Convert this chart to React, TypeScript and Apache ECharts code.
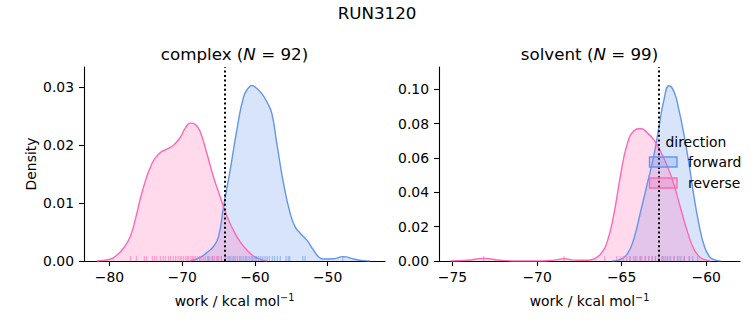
import React, { useEffect, useRef } from 'react';
import * as echarts from 'echarts';

// ---------- data ----------
const complexForward: [number, number][] = [
  [-68.9, 0], [-67.52, 0.00063], [-66.61, 0.00144], [-65.69, 0.0025], [-65.0, 0.0042],
  [-64.31, 0.0094], [-63.4, 0.0157], [-62.48, 0.0226], [-61.56, 0.0283], [-60.88, 0.0299],
  [-60.42, 0.0303], [-59.73, 0.0298], [-59.04, 0.0289], [-58.35, 0.0275], [-57.67, 0.0255],
  [-56.98, 0.0203], [-56.06, 0.0134], [-55.14, 0.0082], [-54.46, 0.0059], [-53.77, 0.0048],
  [-52.85, 0.0036], [-51.94, 0.0019], [-51.25, 0.00075], [-50.56, 0.00034], [-49.18, 0.0004],
  [-47.81, 0.00075], [-46.43, 0.00034], [-45.06, 0.00006], [-44.14, 0],
];
const complexReverse: [number, number][] = [
  [-81.74, 0], [-79.9, 0.0003], [-78.99, 0.001], [-78.07, 0.0022], [-77.15, 0.0042],
  [-76.46, 0.0071], [-75.55, 0.0117], [-74.17, 0.0168], [-73.03, 0.0187], [-72.11, 0.0193],
  [-71.19, 0.02], [-70.28, 0.0213], [-69.59, 0.0229], [-68.9, 0.0238], [-68.21, 0.0236],
  [-67.52, 0.0223], [-66.61, 0.0186], [-65.69, 0.0145], [-64.77, 0.0111], [-63.86, 0.0078],
  [-62.94, 0.0053], [-62.02, 0.0033], [-61.1, 0.0019], [-60.19, 0.00086], [-59.04, 0.0002],
  [-58.35, 0],
];
const solventForward: [number, number][] = [
  [-65.55, 0], [-65.06, 0.00097], [-64.66, 0.0041], [-64.27, 0.0132], [-63.88, 0.0287],
  [-63.48, 0.0452], [-63.09, 0.0617], [-62.79, 0.0782], [-62.5, 0.0937], [-62.2, 0.1021],
  [-61.9, 0.0986], [-61.61, 0.0879], [-61.31, 0.0734], [-61.02, 0.0569], [-60.72, 0.0375],
  [-60.42, 0.021], [-60.13, 0.0093], [-59.83, 0.0029], [-59.54, 0.00078], [-59.14, 0],
];
const solventReverse: [number, number][] = [
  [-75.12, 0], [-74.13, 0.0004], [-73.15, 0.00155], [-72.16, 0.0004], [-71.17, 0],
  [-69.79, 0], [-69.0, 0.0005], [-68.41, 0.00136], [-67.82, 0.0005], [-67.03, 0.0004],
  [-66.64, 0.00116], [-66.24, 0.0041], [-65.85, 0.0113], [-65.45, 0.0278], [-65.06, 0.0501],
  [-64.66, 0.0685], [-64.27, 0.0759], [-63.88, 0.0772], [-63.48, 0.0747], [-63.09, 0.0705],
  [-62.69, 0.0637], [-62.3, 0.0553], [-61.9, 0.0443], [-61.51, 0.0307], [-61.11, 0.0171],
  [-60.72, 0.0068], [-60.33, 0.0019], [-59.93, 0.0004], [-59.73, 0],
];

const complexForwardRug = [
  -66.4, -65.8, -65.1, -64.6, -64.0, -63.7, -63.3, -63.0, -62.7, -62.4, -62.1, -61.9,
  -61.6, -61.3, -61.1, -60.8, -60.5, -60.3, -60.0, -59.8, -59.5, -59.2, -58.9, -58.6,
  -58.3, -58.0, -57.6, -57.3, -56.9, -56.5, -55.7, -55.4, -55.2, -53.4, -53.1, -47.9,
];
const complexReverseRug = [
  -77.1, -76.3, -75.2, -74.9, -74.1, -73.8, -73.5, -73.0, -72.6, -72.3, -71.9, -71.6,
  -71.2, -70.9, -70.6, -70.3, -70.1, -69.8, -69.5, -69.3, -69.1, -68.8, -68.6, -68.4,
  -68.2, -67.9, -67.6, -67.4, -67.1, -66.8, -66.5, -66.2, -65.9, -65.6, -65.3, -65.0,
  -64.6, -64.1, -63.5, -62.9,
];
const solventForwardRug = [
  -64.5, -64.2, -63.9, -63.6, -63.4, -63.2, -63.0, -62.8, -62.6, -62.5, -62.3, -62.1,
  -61.9, -61.7, -61.5, -61.3, -61.0, -60.8, -60.5,
];
const solventReverseRug = [
  -73.15, -68.4, -66.0, -65.3, -65.1, -64.9, -64.7, -64.5, -64.3, -64.1, -63.9, -63.8,
  -63.6, -63.4, -63.2, -63.0, -62.8, -62.6, -62.4, -62.2, -61.9, -61.6, -61.3, -61.0,
];

const complexXTicks = [-80, -70, -60, -50];
const complexYTicks = [0, 0.01, 0.02, 0.03];
const solventXTicks = [-75, -70, -65, -60];
const solventYTicks = [0, 0.02, 0.04, 0.06, 0.08, 0.1];
const complexMean = -64.2;
const solventMean = -62.83;
const complexN = 92;
const solventN = 99;
const directions = ['forward', 'reverse'];

// ---------- styles ----------
const BLUE = '#6495ED';
const PINK = '#FF69B4';
const FONT = 'DejaVu Sans';
const TICK_FS = 13.9;
const TITLE_FS = 16.7;

const minus = (s: string) => s.replace('-', '\u2212');

function xAxis(gridIndex: number, min: number, max: number, ticks: number[]) {
  return {
    type: 'value', gridIndex, min, max,
    axisLine: { show: true, onZero: false, lineStyle: { color: '#000', width: 1.1 } },
    axisTick: { show: true, customValues: ticks, length: 5, lineStyle: { color: '#000', width: 1.1 } },
    axisLabel: {
      customValues: ticks, margin: 9, color: '#000', fontSize: TICK_FS, fontFamily: FONT,
      formatter: (v: number) => minus(String(v)),
    },
    splitLine: { show: false },
  };
}
function yAxis(gridIndex: number, max: number, ticks: number[]) {
  return {
    type: 'value', gridIndex, min: 0, max,
    axisLine: { show: true, onZero: false, lineStyle: { color: '#000', width: 1.1 } },
    axisTick: { show: true, customValues: ticks, length: 5, lineStyle: { color: '#000', width: 1.1 } },
    axisLabel: {
      customValues: ticks, margin: 10, color: '#000', fontSize: TICK_FS, fontFamily: FONT,
      formatter: (v: number) => v.toFixed(2),
    },
    splitLine: { show: false },
  };
}
function kde(idx: number, name: string, data: [number, number][], color: string, mean?: number) {
  const s: any = {
    type: 'line', name, xAxisIndex: idx, yAxisIndex: idx, data,
    smooth: 0.5, showSymbol: false, clip: true, silent: true,
    lineStyle: { color, width: 1.4 },
    areaStyle: { color, opacity: 0.25 },
    z: 2,
  };
  if (mean !== undefined) {
    s.markLine = {
      silent: true, symbol: ['none', 'none'], label: { show: false },
      lineStyle: { color: '#000', type: [2, 2.6], width: 2 },
      data: [{ xAxis: mean }],
    };
  }
  return s;
}
function rug(idx: number, values: number[], color: string) {
  return {
    type: 'scatter', xAxisIndex: idx, yAxisIndex: idx,
    data: values.map((v) => [v, 0]),
    symbol: 'rect', symbolSize: [1.2, 5], symbolOffset: [0, -2.5],
    itemStyle: { color, opacity: 0.55 }, silent: true, z: 3,
  };
}

const text = (x: number, y: number, t: string, extra: any = {}) => ({
  type: 'text', x, y, z: 100,
  style: { text: t, fontFamily: FONT, fontSize: TICK_FS, fill: '#000', ...extra },
});

export default function App() {
  const ref = useRef<HTMLDivElement>(null);
  useEffect(() => {
    if (!ref.current) return;
    const chart = echarts.init(ref.current, null, { renderer: 'svg' });
    const xlabelRich = {
      a: { fontSize: TICK_FS, fontFamily: FONT, lineHeight: 18, verticalAlign: 'middle' },
      b: { fontSize: 9.7, fontFamily: FONT, lineHeight: 11, verticalAlign: 'top' },
    };
    const titleRich = {
      a: { fontSize: TITLE_FS, fontFamily: FONT },
      i: { fontSize: TITLE_FS, fontFamily: FONT, fontStyle: 'italic' },
    };
    chart.setOption({
      animation: false,
      backgroundColor: '#fff',
      grid: [
        { left: 84, top: 67, width: 301, height: 194 },
        { left: 439, top: 67, width: 301, height: 194 },
      ],
      xAxis: [xAxis(0, -83.5, -42.1, complexXTicks), xAxis(1, -75.8, -58.0, solventXTicks)],
      yAxis: [yAxis(0, 0.0335, complexYTicks), yAxis(1, 0.113, solventYTicks)],
      series: [
        kde(0, directions[0], complexForward, BLUE, complexMean),
        kde(0, directions[1], complexReverse, PINK),
        rug(0, complexForwardRug, BLUE),
        rug(0, complexReverseRug, PINK),
        kde(1, directions[0], solventForward, BLUE, solventMean),
        kde(1, directions[1], solventReverse, PINK),
        rug(1, solventForwardRug, BLUE),
        rug(1, solventReverseRug, PINK),
      ],
      graphic: [
        text(377, 13, 'RUN3120', { fontSize: TITLE_FS, align: 'center', verticalAlign: 'middle' }),
        text(234.5, 54, `{a|complex (}{i|N}{a| = ${complexN})}`, { rich: titleRich, align: 'center', verticalAlign: 'middle' }),
        text(589.5, 54, `{a|solvent (}{i|N}{a| = ${solventN})}`, { rich: titleRich, align: 'center', verticalAlign: 'middle' }),
        text(234.5, 301, '{a|work / kcal mol}{b|\u22121}', { rich: xlabelRich, align: 'center', verticalAlign: 'middle' }),
        text(589.5, 301, '{a|work / kcal mol}{b|\u22121}', { rich: xlabelRich, align: 'center', verticalAlign: 'middle' }),
        { ...text(31, 164, 'Density', { align: 'center', verticalAlign: 'middle' }), rotation: Math.PI / 2 },
        text(665.5, 142, 'direction', { verticalAlign: 'middle' }),
        {
          type: 'rect', z: 100, shape: { x: 649.5, y: 157, width: 27.5, height: 10 },
          style: { fill: 'rgba(100,149,237,0.25)', stroke: BLUE, lineWidth: 1.4 },
        },
        {
          type: 'rect', z: 100, shape: { x: 649.5, y: 178, width: 27.5, height: 10 },
          style: { fill: 'rgba(255,105,180,0.25)', stroke: PINK, lineWidth: 1.4 },
        },
        text(688, 162, directions[0], { verticalAlign: 'middle' }),
        text(688, 183, directions[1], { verticalAlign: 'middle' }),
      ],
    });
    return () => chart.dispose();
  }, []);
  return <div ref={ref} style={{ position: 'absolute', left: 0, top: 0, width: 753, height: 325 }} />;
}
